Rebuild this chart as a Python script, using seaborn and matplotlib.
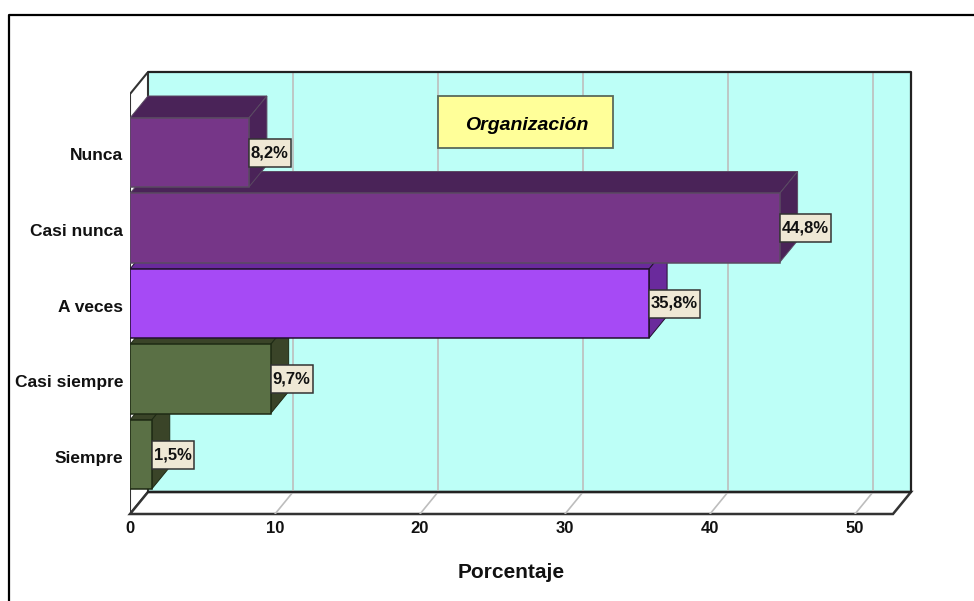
import matplotlib
matplotlib.use("Agg")
import matplotlib.pyplot as plt
import seaborn as sns
import pandas as pd
from matplotlib.patches import Polygon, Rectangle
from matplotlib.lines import Line2D
from matplotlib.transforms import ScaledTranslation

categories = ["Nunca", "Casi nunca", "A veces", "Casi siempre", "Siempre"]
values = [8.2, 44.8, 35.8, 9.7, 1.5]
value_labels = ["8,2%", "44,8%", "35,8%", "9,7%", "1,5%"]
front_colors = ["#763688", "#763688", "#A64AF5", "#5A7045", "#5A7045"]
side_colors = ["#4A2358", "#4A2358", "#6A2A9C", "#3A4428", "#3A4428"]
edge_colors = ["#5A4A62", "#5A4A62", "#22102E", "#1E2A14", "#1E2A14"]
x_ticks = [0, 10, 20, 30, 40, 50]
title_text = "Organización"
x_title = "Porcentaje"

W, H = 974, 601
sns.set_theme(style="white")
FONT = ["Liberation Sans", "DejaVu Sans"]
plt.rcParams["font.family"] = FONT

fig = plt.figure(figsize=(W / 100, H / 100), dpi=100, facecolor="white")
L, R, T, B = 130, 911, 72, 514
ax = fig.add_axes([L / W, 1 - B / H, (R - L) / W, (B - T) / H])

df = pd.DataFrame({"cat": categories, "val": values})
sns.barplot(data=df, y="cat", x="val", hue="cat", order=categories, hue_order=categories,
            palette=front_colors, legend=False, width=0.914, dodge=False, ax=ax,
            linewidth=1.1, saturation=1)

px_per_x = 14.5
px_per_y = 75.5
ax.set_xlim(0, (R - L) / px_per_x)
ax.set_ylim((B - 152.5) / px_per_y, (T - 152.5) / px_per_y)
dx = 18 / px_per_x
dy = 22 / px_per_y
xmax = ax.get_xlim()[1]
ybot, ytop = ax.get_ylim()
for s in ax.spines.values():
    s.set_visible(False)
ax.set_facecolor("none")

# walls
wall_edge = "#333333"
ax.add_patch(Rectangle((dx, ytop), xmax - dx, ybot - dy - ytop, facecolor="#BDFFF7",
                       edgecolor="none", zorder=0.5))
ax.add_patch(Polygon([(0, ytop + dy), (dx, ytop), (dx, ybot - dy), (0, ybot)], closed=True,
                     facecolor="white", edgecolor=wall_edge, linewidth=1.5, zorder=0.6))
ax.add_patch(Polygon([(0, ybot), (xmax - dx, ybot), (xmax, ybot - dy), (dx, ybot - dy)], closed=True,
                     facecolor="white", edgecolor=wall_edge, linewidth=1.8, zorder=0.6,
                     clip_on=False))
for t in x_ticks[1:]:
    ax.add_line(Line2D([t, t + dx, t + dx], [ybot, ybot - dy, ytop], color="#BDBDBD",
                       linewidth=1.2, zorder=0.8))
ax.add_line(Line2D([dx, xmax, xmax, dx], [ytop, ytop, ybot - dy, ybot - dy], color="#222222",
                   linewidth=1.6, zorder=0.9, clip_on=False))

ax.set_xticks(x_ticks)
ax.set_xticklabels([str(t) for t in x_ticks], fontsize=12, fontweight="bold", color="#111111")
n = len(categories)
ax.set_yticks(range(n))
ax.set_yticklabels(categories, fontsize=12.5, fontweight="bold", color="#111111")
ax.tick_params(axis="x", length=0, pad=5)
ax.tick_params(axis="y", length=0, pad=5)
shift = ScaledTranslation(0, -2 / 100, fig.dpi_scale_trans)
for lab in ax.get_yticklabels():
    lab.set_transform(lab.get_transform() + shift)
ax.set_ylabel("")
ax.set_xlabel(x_title, fontsize=15, fontweight="bold", color="#111111")
ax.xaxis.set_label_coords((511 - L) / (R - L), -(563 - B) / (B - T))

renderer = fig.canvas.get_renderer()
# bars in depth: lower categories drawn first
for i, cont in enumerate(ax.containers):
    bar = cont[0] if len(cont) == 1 else cont[i]
    z = 2 + (n - i) * 2
    bar.set_zorder(z + 1)
    bar.set_edgecolor(edge_colors[i])
    x1 = bar.get_width()
    y0 = bar.get_y()
    y1 = y0 + bar.get_height()
    ym = (y0 + y1) / 2
    top = [(0, y0), (dx, y0 - dy), (x1 + dx, y0 - dy), (x1, y0)]
    side = [(x1, y0), (x1 + dx, y0 - dy), (x1 + dx, y1 - dy), (x1, y1)]
    for pts in (top, side):
        ax.add_patch(Polygon(pts, closed=True, facecolor=side_colors[i], edgecolor=edge_colors[i],
                             linewidth=0.7, zorder=z))
    # value label with a box that starts at the end of the bar
    txt = ax.text(x1, ym, value_labels[i], ha="center", va="center", fontsize=12,
                  fontweight="bold", color="#111111", zorder=31)
    tw = txt.get_window_extent(renderer).width
    box_w = (tw + 4) / px_per_x
    box_h = 28 / px_per_y
    txt.set_x(x1 + box_w / 2)
    ax.add_patch(Rectangle((x1, ym - box_h / 2), box_w, box_h, facecolor="#EFE8D5",
                           edgecolor="#333333", linewidth=1.1, zorder=30, clip_on=False))

# title box
fig.add_artist(Rectangle((438 / W, 1 - 148 / H), 175 / W, 52 / H, facecolor="#FFFF99",
                         edgecolor="#5A6A5A", linewidth=1.3, zorder=40, transform=fig.transFigure))
fig.text(526.5 / W, 1 - 125.5 / H, title_text, ha="center", va="center", fontsize=14,
         fontweight="bold", fontstyle="italic", color="black", zorder=41)

# outer frame, open on the right and at the bottom
fig.add_artist(Line2D([8.5 / W, 8.5 / W, 1], [0, 1 - 15 / H, 1 - 15 / H], color="black",
                      linewidth=1.6, transform=fig.transFigure))

fig.savefig("out.png", dpi=100)
